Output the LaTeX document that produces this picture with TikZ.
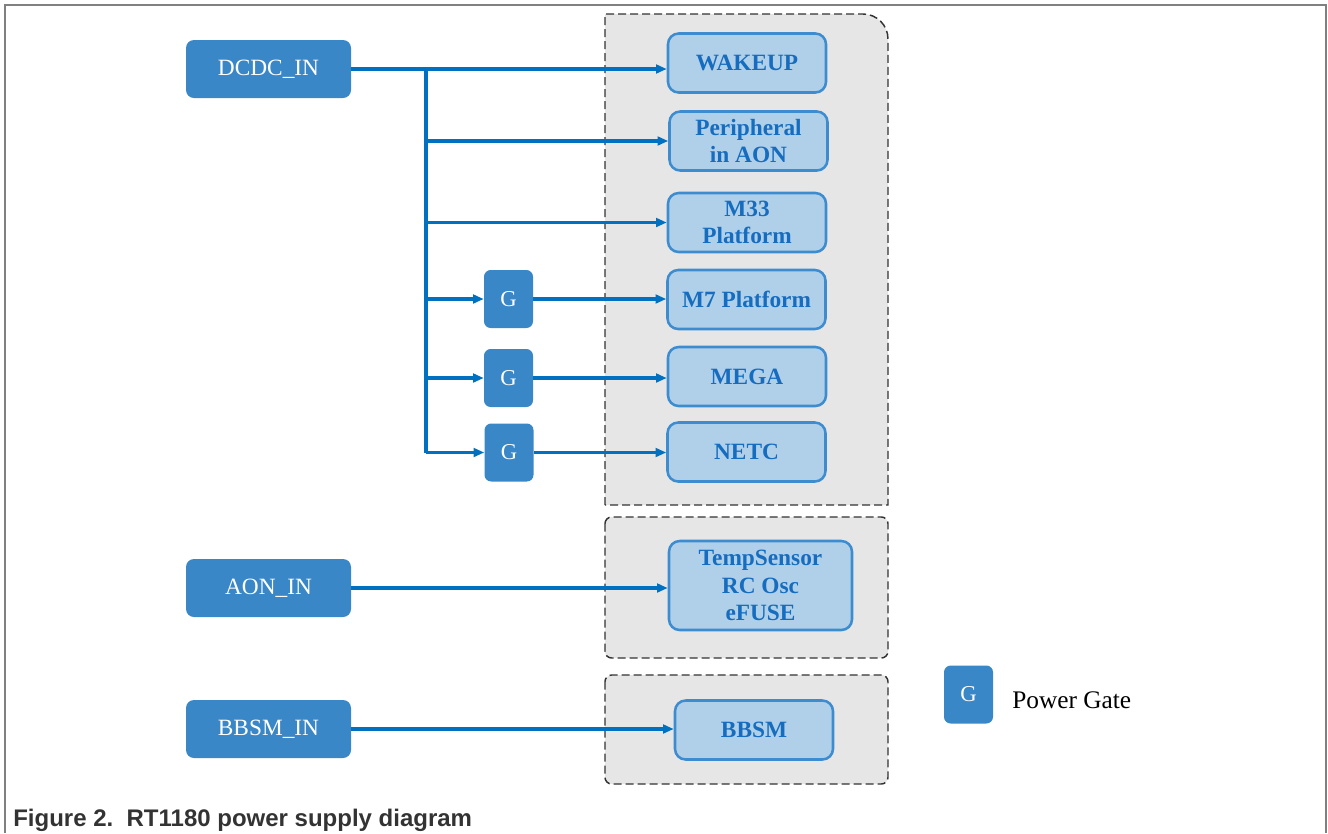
\documentclass[tikz,border=0pt]{standalone}
\usepackage{fontspec}
\setmainfont{Liberation Serif}[BoldFont={Liberation Serif Bold}]
\newfontfamily\capfont{Liberation Sans}[BoldFont={Liberation Sans Bold}]
\usetikzlibrary{arrows.meta}
\definecolor{darkbox}{RGB}{58,135,200}
\definecolor{lightbox}{RGB}{176,208,234}
\definecolor{boxline}{RGB}{62,140,208}
\definecolor{boxtext}{RGB}{22,108,190}
\definecolor{wire}{RGB}{0,112,192}
\definecolor{grp}{RGB}{230,230,230}
\definecolor{frame}{RGB}{128,128,128}
\def\u{0.75pt}
\tikzset{
  inbox/.style={fill=darkbox, draw=none, rounded corners=6pt, text=white, inner sep=0pt,
    minimum width=165*\u, minimum height=58*\u, font=\fontsize{17.5}{19}\selectfont},
  gatebox/.style={fill=darkbox, draw=none, rounded corners=5pt, text=white, inner sep=0pt,
    minimum width=49*\u, minimum height=58*\u, font=\fontsize{17}{19}\selectfont},
  blockbox/.style={fill=lightbox, draw=boxline, line width=1.9pt, rounded corners=8pt,
    text=boxtext, inner sep=0pt, align=center, minimum width=158*\u, minimum height=59*\u,
    font=\bfseries\fontsize{17.5}{20.5}\selectfont},
  grpbox/.style={fill=grp, draw=black!80, line width=1.1pt, dash pattern=on 6pt off 3pt},
  wirearrow/.style={draw=wire, line width=2.3pt, -{Triangle[length=8pt,width=6.5pt]}},
  wireline/.style={draw=wire, line width=2.3pt},
}
\begin{document}
\begin{tikzpicture}[x=0.75pt, y=-0.75pt]
\useasboundingbox (0,0) rectangle (1328,833);
% outer frame
\draw[frame, line width=1.5pt] (5,833) -- (5,5) -- (1326,5) -- (1326,833);
% groups
\draw[grpbox] (605,505) -- (605,14) -- (863,14) .. controls (876.8,14) and (888,25.2) .. (888,39) -- (888,505) -- cycle;
\draw[grpbox, rounded corners=5pt] (605,517) rectangle (888,658);
\draw[grpbox, rounded corners=5pt] (605,675) rectangle (888,784);
% input boxes
\node[inbox] (dcdc) at (268.5,69) {DCDC\_IN};
\node[inbox] (aon) at (268.5,588) {AON\_IN};
\node[inbox] (bbsmin) at (268.5,729) {BBSM\_IN};
% gates
\node[gatebox] (g1) at (508.5,299) {G};
\node[gatebox] (g2) at (508.5,378) {G};
\node[gatebox] (g3) at (509,452.5) {G};
% blocks
\node[blockbox] (wakeup) at (747,63) {WAKEUP};
\node[blockbox] (periph) at (748.5,141) {Peripheral\\in AON};
\node[blockbox] (m33) at (747,222.5) {M33\\Platform};
\node[blockbox] (m7) at (746.5,299.5) {M7 Platform};
\node[blockbox] (mega) at (747,376.5) {MEGA};
\node[blockbox] (netc) at (746.5,452) {NETC};
\node[blockbox, minimum width=183*\u, minimum height=89*\u] (temp) at (760.5,585.5) {TempSensor\\RC Osc\\eFUSE};
\node[blockbox] (bbsm) at (754,730) {BBSM};
% legend
\node[gatebox] (lg) at (968.5,694.5) {G};
\node[anchor=west, inner sep=0pt, font=\fontsize{19}{21}\selectfont] (lgtext) at (1012,700) {Power Gate};
% caption
\node[anchor=base west, inner sep=0pt, text=black!80, font=\capfont\bfseries\fontsize{18}{20}\selectfont] (cap) at (13,826) {Figure 2.\ \ RT1180 power supply diagram};
% wires
\coordinate (bt) at (426,69);
\draw[wirearrow] (dcdc.east) -- (dcdc.east -| wakeup.west);
\draw[wireline] (bt) -- (bt |- g3.west);
\draw[wirearrow] (bt |- periph.west) -- (periph.west);
\draw[wirearrow] (bt |- m33.west) -- (m33.west);
\draw[wirearrow] (bt |- g1.west) -- (g1.west);
\draw[wirearrow] (bt |- g2.west) -- (g2.west);
\draw[wirearrow] (bt |- g3.west) -- (g3.west);
\draw[wirearrow] (g1.east) -- (g1.east -| m7.west);
\draw[wirearrow] (g2.east) -- (g2.east -| mega.west);
\draw[wirearrow] (g3.east) -- (g3.east -| netc.west);
\draw[wirearrow] (aon.east) -- (aon.east -| temp.west);
\draw[wirearrow] (bbsmin.east) -- (bbsmin.east -| bbsm.west);
\end{tikzpicture}
\end{document}
